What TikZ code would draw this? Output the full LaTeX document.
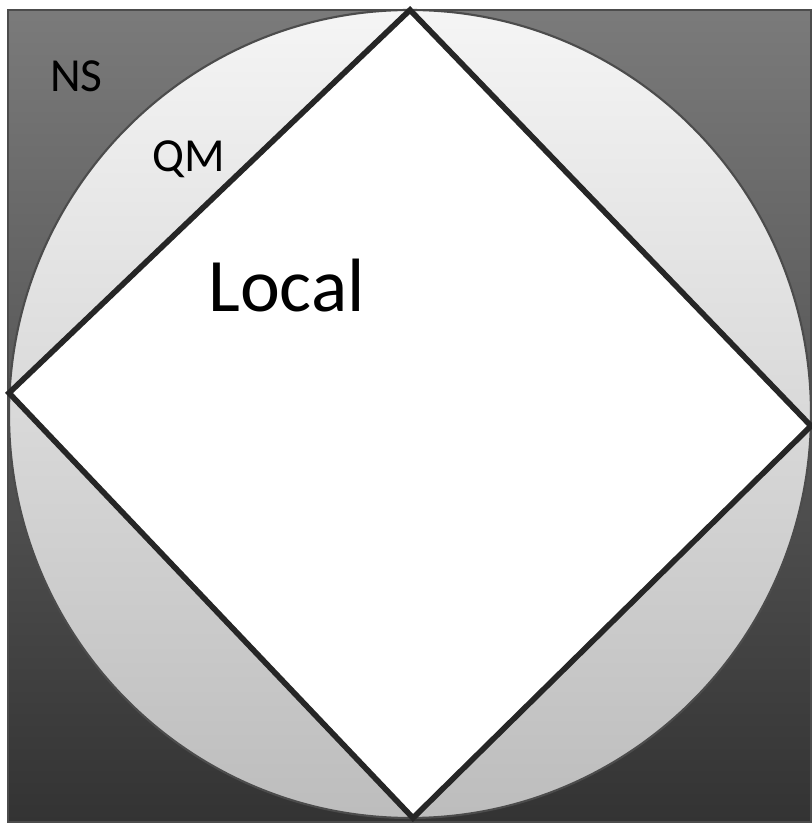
\documentclass[tikz,border=0pt]{standalone}
\usepackage{fontspec}
\setmainfont{Carlito}
\usepackage{tikz}
\usetikzlibrary{positioning,calc}

\begin{document}
\begin{tikzpicture}[
        region/.style={draw=black!70, line width=0.6pt},
        edge/.style={draw=black!85, line width=1.6pt, line join=miter},
        label/.style={inner sep=0pt, anchor=base, font=\fontsize{13.5}{16}\selectfont},
        biglabel/.style={label, font=\fontsize{21.5}{25}\selectfont}
    ]
        \useasboundingbox (0,0) rectangle (8.11,8.23);
        % outer square (NS)
        \shade [region, top color=black!52, bottom color=black!80] (0.08,0.01) rectangle (8.11,8.13);
        % circle (QM)
        \coordinate (c) at (4.10,4.09);
        \shade [region, top color=black!4, bottom color=black!26] (c) ellipse [x radius=4.01, y radius=4.04];
        % diamond (Local)
        \coordinate (top) at (4.10,8.13);
        \coordinate (left) at (0.09,4.30);
        \coordinate (bottom) at (4.13,0.05);
        \coordinate (right) at (8.11,3.97);
        \path [edge, fill=white] (top) -- (left) -- (bottom) -- (right) -- cycle;

        \node [label] (ns) at (0.765,7.31) {NS};
        \node [label] (qm) at (1.89,6.51) {QM};
        \node [biglabel] (local) at (2.865,5.11) {Local};
    \end{tikzpicture}
\end{document}
